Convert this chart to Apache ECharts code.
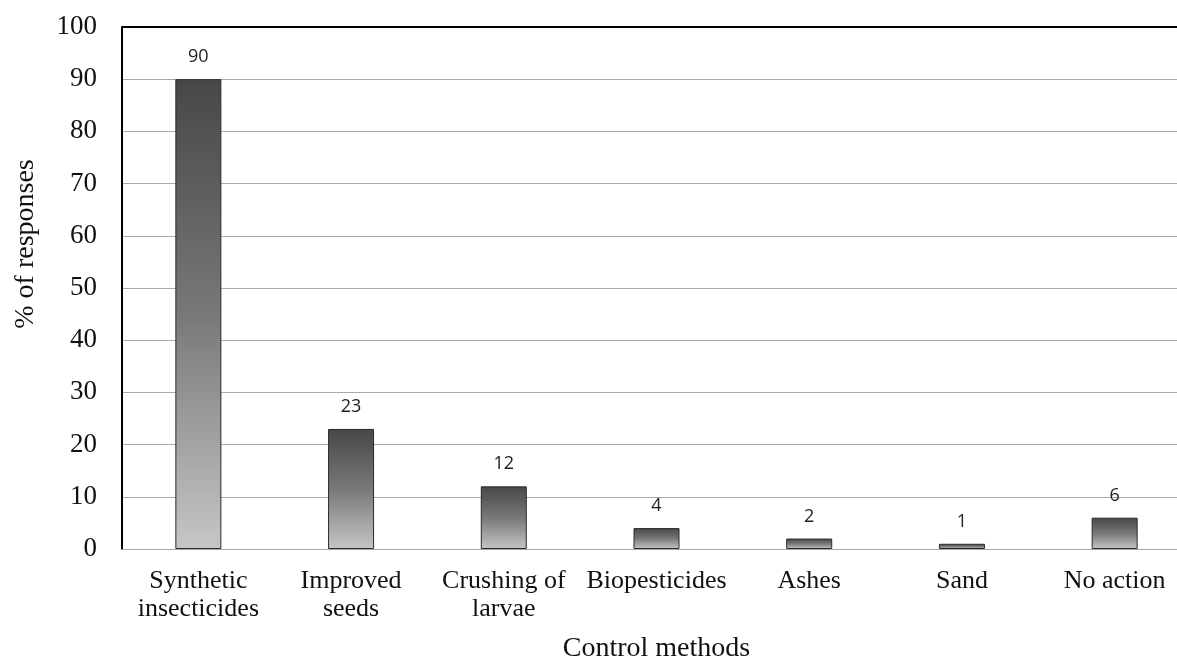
<!DOCTYPE html>
<html><head><meta charset="utf-8">
<script src="https://cdn.jsdelivr.net/npm/echarts@6/dist/echarts.min.js"></script>
<style>html,body{margin:0;padding:0;background:#fff}#c{width:1177px;height:660px}</style>
</head><body><div id="c"></div>
<script>
const categories = ['Synthetic\ninsecticides', 'Improved\nseeds', 'Crushing of\nlarvae', 'Biopesticides', 'Ashes', 'Sand', 'No action'];
const values = [90, 23, 12, 4, 2, 1, 6];
const yTicks = [0, 10, 20, 30, 40, 50, 60, 70, 80, 90, 100];

const chart = echarts.init(document.getElementById('c'));
const grad = {
  type: 'linear', x: 0, y: 0, x2: 0, y2: 1,
  colorStops: [{offset: 0, color: '#474747'}, {offset: 0.5, color: '#787878'}, {offset: 1, color: '#c6c6c6'}]
};
chart.setOption({
  animation: false,
  grid: {left: 122, top: 27, width: 1069, height: 522, containLabel: false, outerBoundsMode: 'none'},
  xAxis: {
    type: 'category', data: categories,
    name: 'Control methods', nameLocation: 'middle', nameGap: 86,
    nameTextStyle: {fontFamily: 'Liberation Serif', fontSize: 28, color: '#111'},
    axisLine: {lineStyle: {color: '#a8a8a8', width: 1}},
    axisTick: {show: false},
    axisLabel: {fontFamily: 'Liberation Serif', fontSize: 26, color: '#111', lineHeight: 28, margin: 18, interval: 0}
  },
  yAxis: {
    type: 'value', min: 0, max: 100, interval: 10,
    name: '% of responses', nameLocation: 'middle', nameGap: 82,
    nameTextStyle: {fontFamily: 'Liberation Serif', fontSize: 28, color: '#111', padding: [0, 0, 0, 88]},
    axisLine: {show: true, lineStyle: {color: '#000', width: 2}},
    axisTick: {show: false},
    axisLabel: {fontFamily: 'Liberation Serif', fontSize: 27, color: '#111', margin: 25,
      formatter: v => yTicks.includes(v) ? String(v) : ''},
    splitLine: {lineStyle: {color: '#a8a8a8', width: 1}}
  },
  series: [{
    type: 'bar', data: values, barWidth: 46,
    itemStyle: {color: grad, borderColor: '#2a2a2a', borderWidth: 1},
    label: {show: true, position: 'top', distance: 13, fontFamily: 'Open Sans', fontSize: 18, color: '#222'},
    markLine: {
      silent: true, symbol: 'none', label: {show: false},
      lineStyle: {color: '#000', width: 2, type: 'solid'},
      data: [{yAxis: 100}]
    }
  }]
});
</script></body></html>
